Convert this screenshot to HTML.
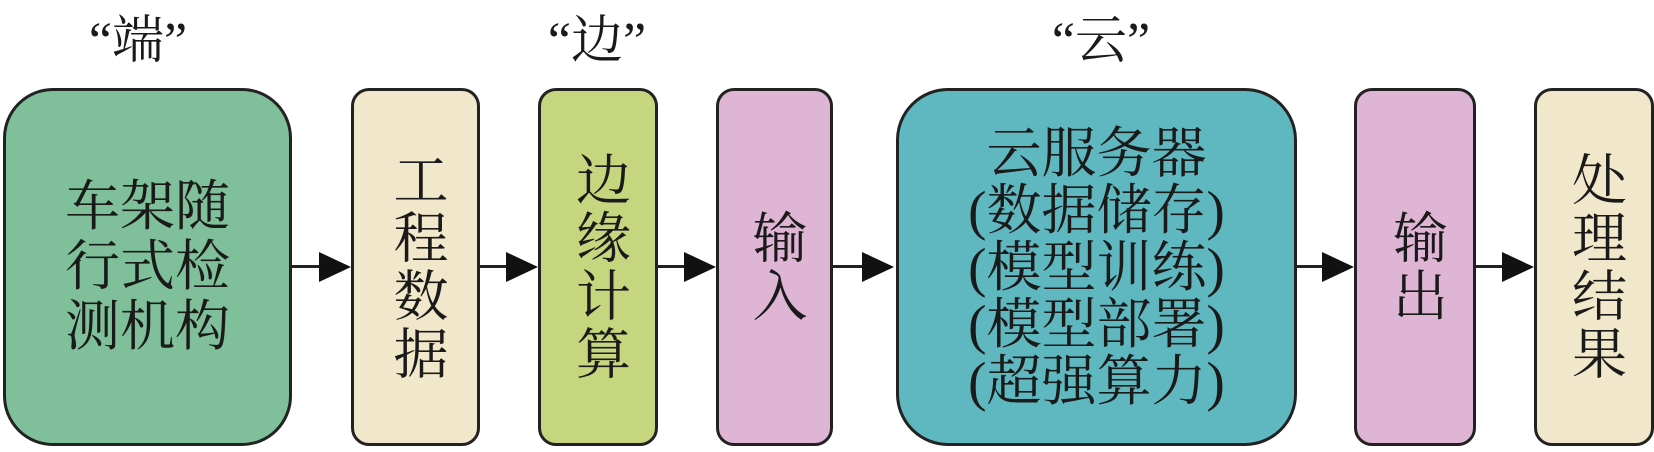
<!DOCTYPE html>
<html><head><meta charset="utf-8"><style>
html,body{margin:0;padding:0;background:#fff;}
body{width:1654px;height:452px;position:relative;overflow:hidden;font-family:"Liberation Serif","Noto Serif CJK SC",serif;color:#1a1a1a;}
.b{position:absolute;top:88px;height:358px;box-sizing:border-box;border:3px solid #222;display:flex;align-items:center;justify-content:center;text-align:center;font-size:55px;line-height:60px;}
.v{writing-mode:vertical-rl;letter-spacing:3px;}
.q{position:absolute;top:12px;font-size:52px;line-height:60px;transform:translateX(-50%);}
.ln{position:absolute;top:265px;height:3px;background:#222;}
.tr{position:absolute;top:252px;width:0;height:0;border-top:15px solid transparent;border-bottom:15px solid transparent;border-left:32px solid #111;}
</style></head><body>
<div class="q" style="left:138px">“端”</div>
<div class="q" style="left:597px">“边”</div>
<div class="q" style="left:1101px">“云”</div>

<div class="b" style="left:3px;width:289px;background:#7fbf9a;border-radius:50px;">车架随<br>行式检<br>测机构</div>
<div class="b v" style="left:351px;width:129px;background:#f1e8cc;border-radius:18px;">工程数据</div>
<div class="b v" style="left:538px;width:120px;background:#c5d67f;border-radius:18px;">边缘计算</div>
<div class="b v" style="left:716px;width:117px;background:#deb5d4;border-radius:18px;">输入</div>
<div class="b" style="left:896px;width:401px;background:#5fb8c0;border-radius:52px;line-height:57px;">云服务器<br>(数据储存)<br>(模型训练)<br>(模型部署)<br>(超强算力)</div>
<div class="b v" style="left:1354px;width:122px;background:#deb5d4;border-radius:18px;">输出</div>
<div class="b v" style="left:1534px;width:120px;background:#f1e8cc;border-radius:18px;">处理结果</div>

<div class="ln" style="left:292px;width:30px"></div><div class="tr" style="left:319px"></div>
<div class="ln" style="left:480px;width:30px"></div><div class="tr" style="left:506px"></div>
<div class="ln" style="left:658px;width:30px"></div><div class="tr" style="left:684px"></div>
<div class="ln" style="left:833px;width:32px"></div><div class="tr" style="left:862px"></div>
<div class="ln" style="left:1297px;width:30px"></div><div class="tr" style="left:1322px"></div>
<div class="ln" style="left:1476px;width:30px"></div><div class="tr" style="left:1502px"></div>
</body></html>
